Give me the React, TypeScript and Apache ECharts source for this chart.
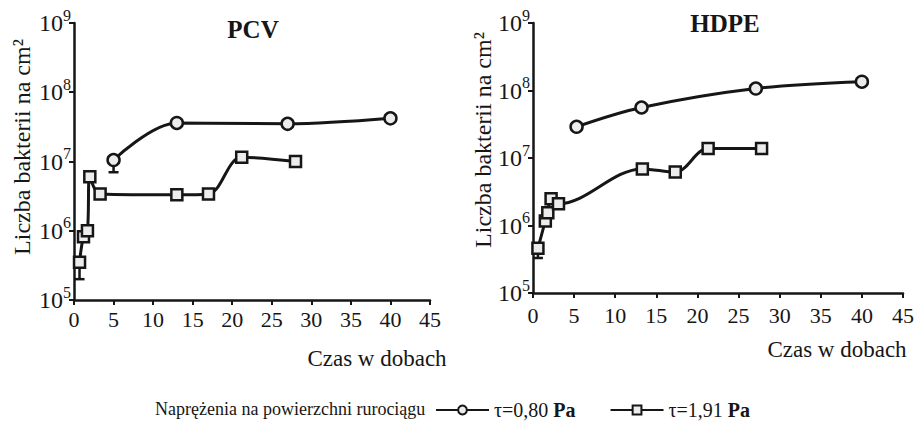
import React, { useEffect, useRef } from "react";
import * as echarts from "echarts";

const FONT = "Liberation Serif";
const INK = "#161616";

// PCV
const pcvCircleX = [5, 13, 27, 40];
const pcvCircleY = [1.05e7, 3.6e7, 3.5e7, 4.2e7];
const pcvSquareX = [0.7, 1.2, 1.7, 2.0, 3.3, 13, 17, 21.2, 28];
const pcvSquareY = [3.5e5, 8.2e5, 1.0e6, 6.0e6, 3.4e6, 3.3e6, 3.4e6, 1.15e7, 1.0e7];
const pcvErrX = [5, 0.7];
const pcvErrLow = [7.0e6, 2.0e5];
const pcvErrHigh = [1.05e7, 3.5e5];

// HDPE
const hdpeCircleX = [5.3, 13.2, 27.1, 40];
const hdpeCircleY = [2.9e7, 5.6e7, 1.07e8, 1.35e8];
const hdpeSquareX = [0.6, 1.5, 1.8, 2.2, 3.1, 13.3, 17.3, 21.3, 27.8];
const hdpeSquareY = [4.6e5, 1.17e6, 1.55e6, 2.5e6, 2.1e6, 6.9e6, 6.2e6, 1.38e7, 1.38e7];
const hdpeErrX = [0.6];
const hdpeErrLow = [3.3e5];
const hdpeErrHigh = [4.6e5];

const seriesNames = ["τ=0,80 Pa", "τ=1,91 Pa"];
const titles = ["PCV", "HDPE"];
const xName = "Czas w dobach";
const yName = "Liczba bakterii na cm²";
const legendPrefix = "Naprężenia na powierzchni rurociągu";

const zip = (xs: number[], ys: number[]) => xs.map((x, i) => [x, ys[i]]);
const zip3 = (xs: number[], lo: number[], hi: number[]) => xs.map((x, i) => [x, lo[i], hi[i]]);

export default function App() {
  const ref = useRef<HTMLDivElement>(null);
  useEffect(() => {
    if (!ref.current) return;
    const chart = echarts.init(ref.current, undefined, { renderer: "svg" });

    const xAxisBase = (gridIndex: number, margin: number) => ({
      type: "value",
      gridIndex,
      min: 0,
      max: 45,
      interval: 5,
      axisLine: { show: true, lineStyle: { color: INK, width: 2.5 } },
      axisTick: { show: true, length: 5, lineStyle: { color: INK, width: 2 } },
      axisLabel: { fontFamily: FONT, fontSize: 22, color: INK, margin },
      splitLine: { show: false },
    });
    const yAxisBase = (gridIndex: number) => ({
      type: "log",
      logBase: 10,
      gridIndex,
      min: 1e5,
      max: 1e9,
      splitNumber: 4,
      axisLine: { show: true, lineStyle: { color: INK, width: 2.5 } },
      axisTick: { show: true, length: 5, lineStyle: { color: INK, width: 2 } },
      axisLabel: {
        margin: 3,
        formatter: (v: number) => `{a|10}{b|${Math.round(Math.log10(v))}}`,
        rich: {
          a: { fontFamily: FONT, fontSize: 24, color: INK, lineHeight: 24 },
          b: { fontFamily: FONT, fontSize: 16, color: INK, padding: [0, 0, 16, 0] },
        },
      },
      splitLine: { show: false },
    });

    const lineSeries = (name: string, data: number[][], symbol: string, size: number, idx: number) => ({
      type: "line",
      name,
      xAxisIndex: idx,
      yAxisIndex: idx,
      data,
      smooth: 0.35,
      symbol,
      symbolSize: size,
      showAllSymbol: true,
      lineStyle: { color: INK, width: 3 },
      itemStyle: { color: "#ececec", borderColor: INK, borderWidth: 2.5 },
      z: 3,
    });

    const errSeries = (data: number[][], idx: number) => ({
      type: "custom",
      xAxisIndex: idx,
      yAxisIndex: idx,
      data,
      encode: { x: 0, y: [1, 2] },
      z: 2,
      renderItem: (_p: any, api: any) => {
        const x = api.value(0);
        const top = api.coord([x, api.value(2)]);
        const bot = api.coord([x, api.value(1)]);
        return {
          type: "group",
          children: [
            { type: "line", shape: { x1: top[0], y1: top[1], x2: bot[0], y2: bot[1] }, style: { stroke: INK, lineWidth: 2.5 } },
            { type: "line", shape: { x1: bot[0] - 5, y1: bot[1], x2: bot[0] + 5, y2: bot[1] }, style: { stroke: INK, lineWidth: 2.5 } },
          ],
        };
      },
    });

    const txt = (text: string, x: number, y: number, size: number, weight: string, extra: any = {}) => ({
      type: "text",
      x,
      y,
      ...extra,
      style: {
        text,
        fontFamily: FONT,
        fontSize: size,
        fontWeight: weight,
        fill: INK,
        textAlign: "center",
        textVerticalAlign: "middle",
        align: "center",
        verticalAlign: "middle",
      },
    });

    chart.setOption({
      animation: false,
      backgroundColor: "#ffffff",
      grid: [
        { left: 74, top: 23, width: 356, height: 277 },
        { left: 533, top: 23, width: 370, height: 270 },
      ],
      xAxis: [xAxisBase(0, 8), xAxisBase(1, 11)],
      yAxis: [yAxisBase(0), yAxisBase(1)],
      legend: {
        left: 433,
        top: 398,
        padding: 2,
        itemWidth: 53,
        itemHeight: 11,
        itemGap: 34,
        data: seriesNames,
        formatter: (name: string) => {
          const parts = name.split(" ");
          return `{t|${parts[0]} }{b|${parts[1]}}`;
        },
        textStyle: {
          fontFamily: FONT,
          rich: {
            t: { fontFamily: FONT, fontSize: 20, color: INK, lineHeight: 20 },
            b: { fontFamily: FONT, fontSize: 20, fontWeight: "bold", color: INK, lineHeight: 20 },
          },
        },
      },
      graphic: [
        txt(titles[0], 253, 29, 25, "bold"),
        txt(titles[1], 725, 23, 25, "bold"),
        txt(xName, 377, 358, 23, "normal"),
        txt(xName, 837, 349, 23, "normal"),
        txt(yName, 22, 147, 24, "normal", { rotation: Math.PI / 2 }),
        txt(yName, 483, 140, 24, "normal", { rotation: Math.PI / 2 }),
        {
          type: "text",
          x: 155,
          y: 409,
          style: {
            text: legendPrefix,
            fontFamily: FONT,
            fontSize: 18,
            fill: INK,
            textVerticalAlign: "middle",
            verticalAlign: "middle",
          },
        },
      ],
      series: [
        errSeries(zip3(pcvErrX, pcvErrLow, pcvErrHigh), 0),
        errSeries(zip3(hdpeErrX, hdpeErrLow, hdpeErrHigh), 1),
        lineSeries(seriesNames[0], zip(pcvCircleX, pcvCircleY), "circle", 12, 0),
        lineSeries(seriesNames[1], zip(pcvSquareX, pcvSquareY), "rect", 11, 0),
        lineSeries(seriesNames[0], zip(hdpeCircleX, hdpeCircleY), "circle", 12, 1),
        lineSeries(seriesNames[1], zip(hdpeSquareX, hdpeSquareY), "rect", 11, 1),
      ],
    });
    return () => chart.dispose();
  }, []);
  return <div ref={ref} style={{ width: 922, height: 424, position: "absolute", left: 0, top: 0 }} />;
}
